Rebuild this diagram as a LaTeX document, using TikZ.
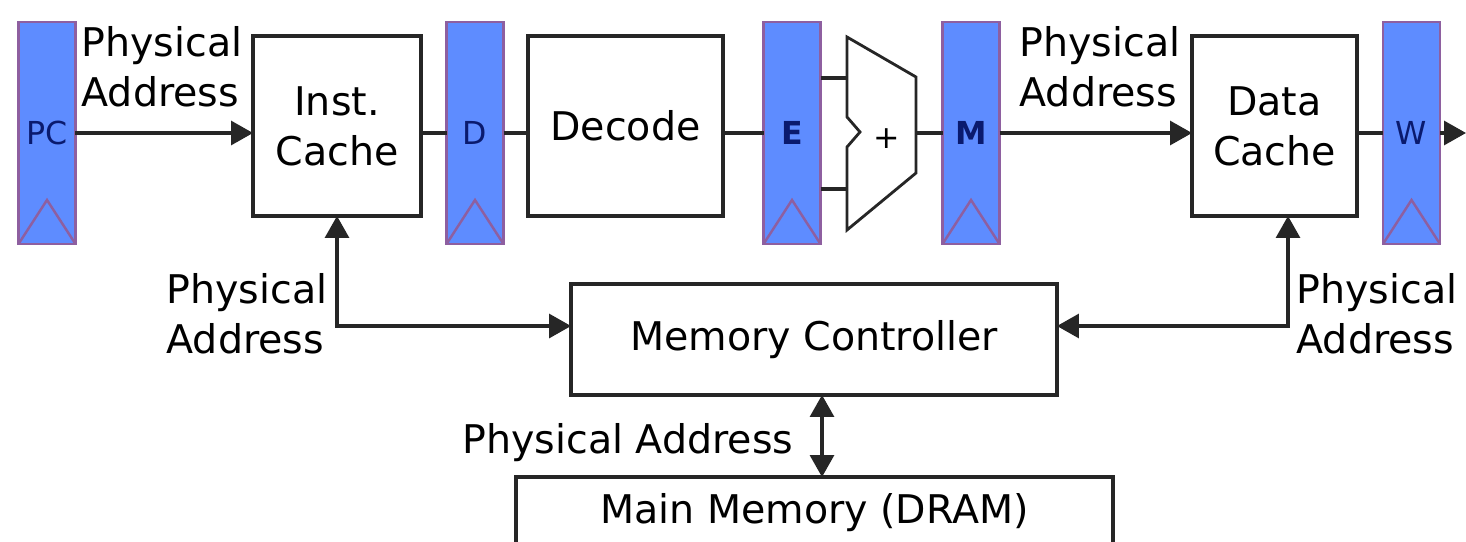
\documentclass[tikz,border=0pt]{standalone}
\usepackage{fontspec}
\setmainfont{DejaVu Sans}
\usetikzlibrary{arrows.meta,positioning,calc}
\definecolor{regfill}{HTML}{5E8CFF}
\definecolor{regline}{HTML}{8E5FA0}
\definecolor{regtext}{HTML}{0A1A6E}
\definecolor{wirecol}{HTML}{262626}
\tikzset{
  stagereg/.style={draw=regline, line width=1.6pt, fill=regfill, inner sep=0pt, outer sep=0pt,
    minimum width=1.14cm, minimum height=4.44cm, text=regtext, font=\fontsize{18}{20}\selectfont},
  boldreg/.style={stagereg, font=\fontsize{18}{20}\selectfont\bfseries},
  unitbox/.style={draw=wirecol, line width=1.8pt, fill=white, align=center, inner sep=0pt,
    outer sep=0pt, font=\fontsize{22.5}{28.5}\selectfont},
  lbl/.style={align=left, inner sep=0pt, font=\fontsize{22.5}{28.5}\selectfont},
  wire/.style={draw=wirecol, line width=1.8pt},
  arr/.style={wire, -{Triangle[length=0.44cm,width=0.48cm]}},
  dblarr/.style={wire, {Triangle[length=0.44cm,width=0.48cm]}-{Triangle[length=0.44cm,width=0.48cm]}}
}
\begin{document}
\begin{tikzpicture}[x=0.02cm,y=-0.02cm]
        \useasboundingbox (0,0) rectangle (1466,541);
        \clip (0,0) rectangle (1466,541);
        \node[stagereg] (pc) at (47,133) {PC};
        \node[stagereg] (dr) at (475,133) {D};
        \node[boldreg] (er) at (792,133) {E};
        \node[boldreg] (mr) at (971,133) {M};
        \node[stagereg] (wr) at (1411.5,133) {W};
        \foreach \r in {pc,dr,er,mr,wr} {
          \draw[regline, line width=1.4pt] (\r.south west) -- ([yshift=0.88cm]\r.south) -- (\r.south east);
        }
        \node[unitbox, minimum width=3.36cm, minimum height=3.6cm] (ic) at (337,126) {Inst.\\Cache};
        \node[unitbox, minimum width=3.9cm, minimum height=3.6cm] (dec) at (625.5,126) {Decode};
        \node[unitbox, minimum width=3.3cm, minimum height=3.6cm] (dc) at (1274.5,126) {Data\\Cache};
        \node[unitbox, minimum width=9.72cm, minimum height=2.22cm] (mc) at (814,339.5) {Memory Controller};
        \node[unitbox, minimum width=11.94cm, minimum height=1.44cm] (mm) at (814.5,513) {Main Memory (DRAM)};
        \draw[wire, line width=1.6pt, fill=white] (847,37) -- (916,77) -- (916,173) -- (847,230)
          -- (847,147) -- (860,132) -- (847,117) -- cycle;
        \coordinate (addA) at (847,78);
        \coordinate (addB) at (847,189);
        \coordinate (addO) at (916,133);
        \node[font=\fontsize{18}{20}\selectfont, inner sep=0pt] (plus) at (887,139) {+};
        \coordinate (wout) at (1466,133);
        \coordinate (memlink) at (822,0);
        \draw[arr] (pc.east) -- (pc.east -| ic.west);
        \draw[wire] (ic.east |- dr.west) -- (dr.west);
        \draw[wire] (dr.east) -- (dr.east -| dec.west);
        \draw[wire] (dec.east |- er.west) -- (er.west);
        \draw[wire] (er.east |- addA) -- (addA);
        \draw[wire] (er.east |- addB) -- (addB);
        \draw[wire] (addO) -- (mr.west |- addO);
        \draw[arr] (mr.east) -- (mr.east -| dc.west);
        \draw[wire] (dc.east |- wr.west) -- (wr.west);
        \draw[arr] (wr.east) -- (wout);
        \draw[dblarr] (ic.south) |- ([yshift=0.27cm]mc.west);
        \draw[dblarr] ([xshift=0.27cm]dc.south) |- ([yshift=0.27cm]mc.east);
        \draw[dblarr] (mc.south -| memlink) -- (mm.north -| memlink);
        \node[lbl] (pa1) at (162,67) {Physical\\Address};
        \node[lbl] (pa2) at (1100,67) {Physical\\Address};
        \node[lbl] (pa3) at (247,314) {Physical\\Address};
        \node[lbl] (pa4) at (1377,314) {Physical\\Address};
        \node[lbl] (pa5) at (628,443) {Physical Address};
      \end{tikzpicture}
\end{document}
